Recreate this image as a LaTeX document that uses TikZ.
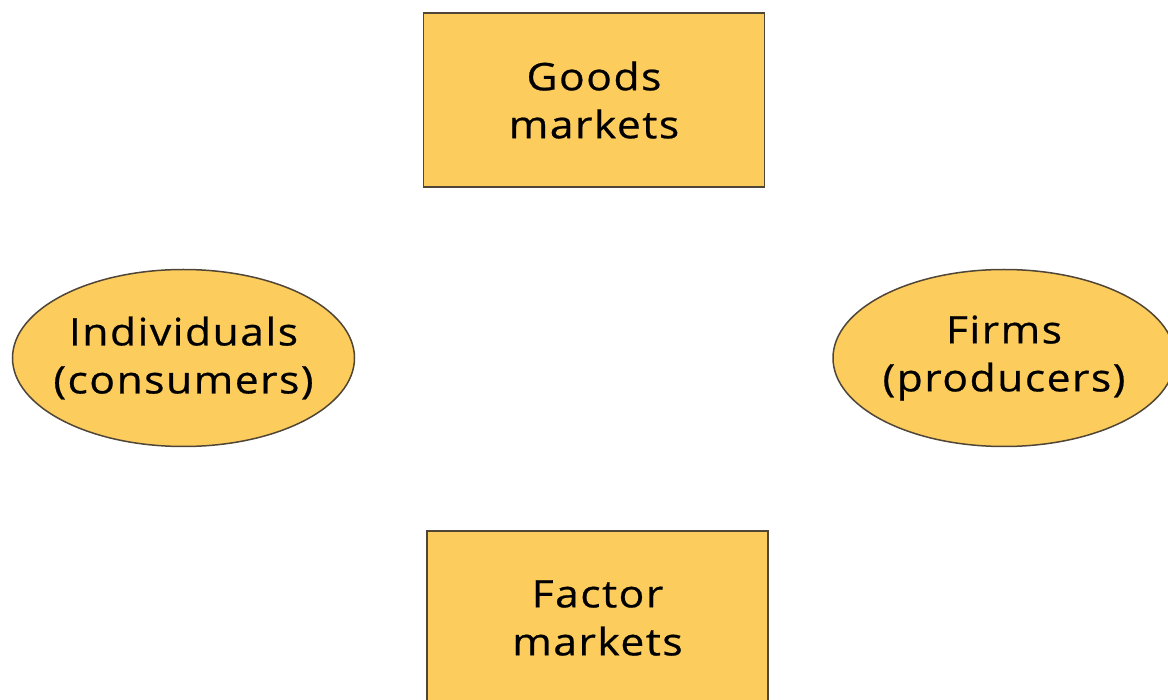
\documentclass[tikz,border=0pt]{standalone}
\usepackage{fontspec}
\setmainfont[LetterSpace=4,FakeStretch=1.12,FakeBold=0.6]{Open Sans}
\usetikzlibrary{shapes.geometric}
\definecolor{boxfill}{RGB}{252,204,92}
\definecolor{boxline}{RGB}{80,70,56}
\newcommand{\ctrline}[1]{\makebox[0pt]{#1}}
\begin{document}
\begin{tikzpicture}[x=1pt,y=-1pt,
  market/.style={draw=boxline,line width=1.5pt,fill=boxfill,rectangle,minimum width=341pt,minimum height=174pt,inner sep=0pt,align=center,font=\fontsize{38}{48}\selectfont},
  agent/.style={draw=boxline,line width=1.5pt,fill=boxfill,ellipse,minimum width=342pt,minimum height=177pt,inner sep=0pt,align=center,font=\fontsize{38}{48}\selectfont}]
\useasboundingbox (0,0) rectangle (1168,700);
\node[market] (goods) at (594,100) {\ctrline{Goods}\\\ctrline{markets}};
\node[market] (factor) at (597.5,618) {\ctrline{Factor}\\\ctrline{markets}};
\node[agent] (indiv) at (183.5,358) {\ctrline{Individuals}\\\ctrline{(consumers)}};
\node[agent] (firms) at (1004,358) {\ctrline{Firms}\\\ctrline{(producers)}};
\end{tikzpicture}
\end{document}
